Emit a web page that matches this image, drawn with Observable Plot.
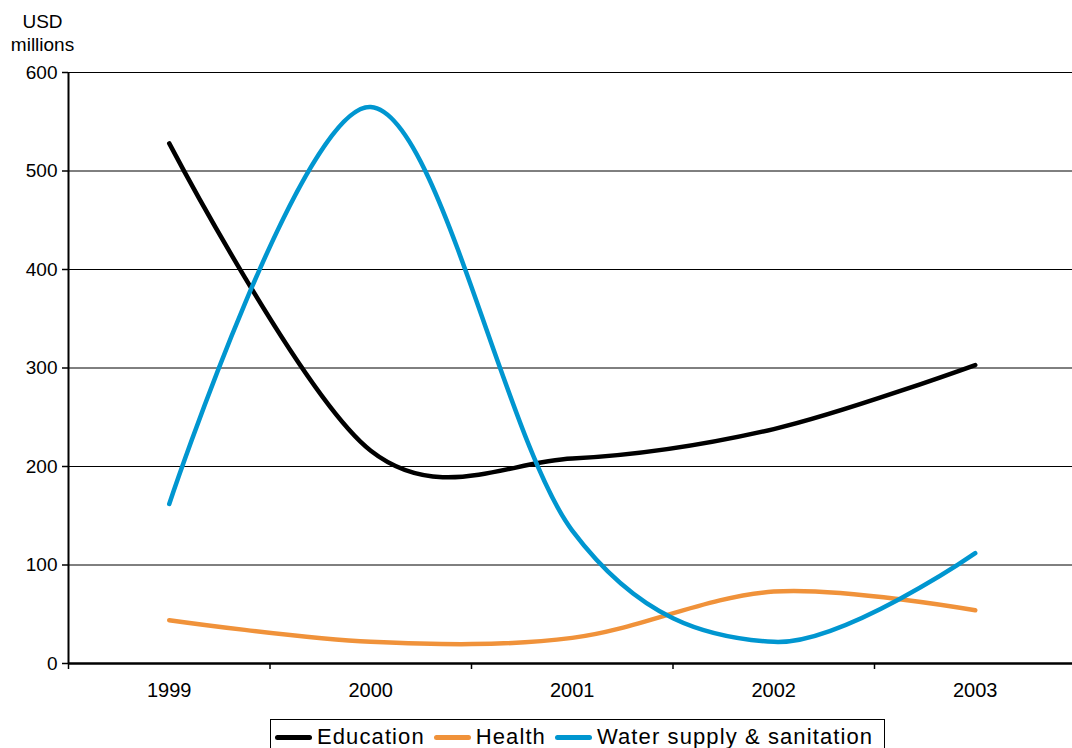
<!DOCTYPE html>
<html>
<head>
<meta charset="utf-8">
<script src="https://cdn.jsdelivr.net/npm/d3@7"></script>
<script src="https://cdn.jsdelivr.net/npm/@observablehq/plot@0.6"></script>
<style>
  body { margin: 0; background: #fff; font-family: "Liberation Sans", Arial, sans-serif; }
  #wrap { position: relative; width: 1072px; height: 748px; overflow: hidden; }
  #legend {
    position: absolute; left: 270px; top: 719px;
    border: 1px solid #000; box-sizing: border-box;
    width: 615px; height: 45px;
    padding: 6px 0 0 4px; display: flex; align-items: flex-start;
    font-size: 22px; letter-spacing: 1.1px; line-height: 22px; color: #000;
  }
  .item { display: flex; align-items: center; margin-right: 9px; white-space: nowrap; }
  .sw { display: inline-block; width: 37px; height: 5px; border-radius: 3px; margin-right: 5px; }
</style>
</head>
<body>
<div id="wrap"></div>
<script>
const years = [1999, 2000, 2001, 2002, 2003];
const seriesNames = ["Education", "Health", "Water supply & sanitation"];
const seriesColors = ["#000000", "#F0923A", "#0096D0"];
const education = [528, 216, 208, 238, 303];
const health = [44, 22, 26, 73, 54];
const water = [162, 565, 135, 22, 112];
const yTicks = [0, 100, 200, 300, 400, 500, 600];
const yLabel = "USD\nmillions";

const seriesValues = [education, health, water];
const data = [];
seriesNames.forEach((name, i) => {
  years.forEach((yr, j) => data.push({series: name, year: yr, value: seriesValues[i][j]}));
});
const boundaries = years.map(y => y - 0.5).concat([years[years.length - 1] + 0.5]);

const chart = Plot.plot({
  width: 1072,
  height: 710,
  marginTop: 72,
  marginBottom: 47,
  marginLeft: 68,
  marginRight: 0,
  style: {fontFamily: "'Liberation Sans', Arial, sans-serif", fontSize: "19px", color: "#000", background: "#fff"},
  x: {type: "linear", domain: [years[0] - 0.5, years[years.length - 1] + 0.5], range: [68, 1075.5]},
  y: {domain: [0, 600]},
  color: {domain: seriesNames, range: seriesColors},
  marks: [
    Plot.gridY(yTicks.filter(d => d > 0), {stroke: "#000", strokeOpacity: 1, strokeWidth: 1}),
    Plot.line(data, {x: "year", y: "value", z: "series", stroke: "series", strokeWidth: 4.5,
      curve: "cardinal", tension: 0, strokeLinecap: "round", strokeLinejoin: "round"}),
    Plot.ruleY([0], {stroke: "#000", strokeWidth: 2.5}),
    Plot.ruleX([years[0] - 0.5], {stroke: "#000", strokeWidth: 2}),
    Plot.axisY({ticks: yTicks, tickSize: 6, tickPadding: 5, label: null, tickFormat: d => d, fontSize: 19, strokeWidth: 1.5}),
    Plot.axisX({ticks: boundaries, tickSize: 6, tickFormat: () => "", label: null, strokeWidth: 1.5}),
    Plot.axisX({ticks: years, tickSize: 0, tickPadding: 19, tickFormat: d => String(d), label: null, fontSize: 20}),
    Plot.text([yLabel], {frameAnchor: "top-left", dx: -26, dy: -40.5, textAnchor: "middle", lineAnchor: "middle", lineHeight: 1.21, fontSize: 19})
  ]
});
const wrap = document.getElementById("wrap");
wrap.appendChild(chart);

const legend = document.createElement("div");
legend.id = "legend";
seriesNames.forEach((name, i) => {
  const it = document.createElement("div");
  it.className = "item";
  const sw = document.createElement("span");
  sw.className = "sw";
  sw.style.background = seriesColors[i];
  it.appendChild(sw);
  it.appendChild(document.createTextNode(name));
  legend.appendChild(it);
});
wrap.appendChild(legend);
</script>
</body>
</html>
